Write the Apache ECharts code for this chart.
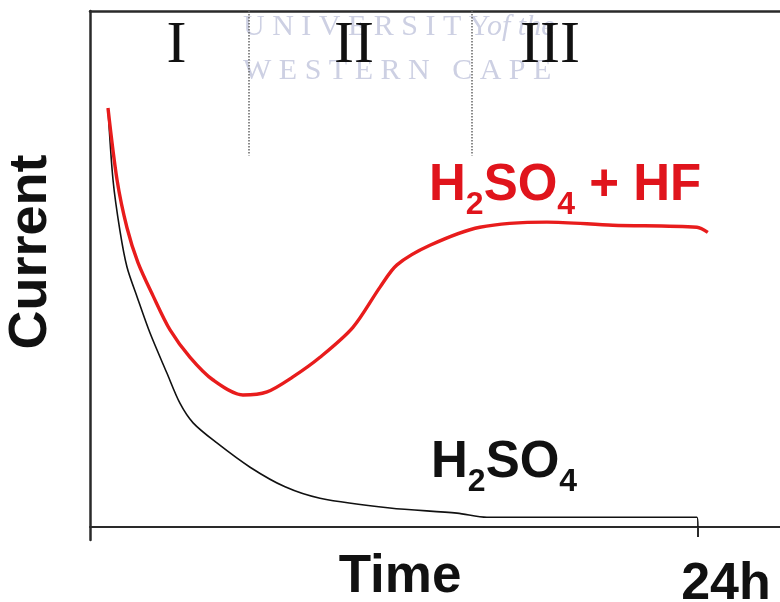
<!DOCTYPE html>
<html>
<head>
<meta charset="utf-8">
<script src="https://cdn.jsdelivr.net/npm/echarts@6/dist/echarts.min.js"></script>
<style>
html,body{margin:0;padding:0;background:#fff;}
#chart{width:780px;height:602px;}
</style>
</head>
<body>
<div id="chart"></div>
<script>
// ---- data (time in hours, current in arbitrary units) ----
const hfTime    = [0.71, 1.07, 1.46, 1.89, 2.49, 3.16, 3.95, 4.86, 6.04, 6.99, 8.01, 9.08, 10.38, 11.45, 12.12, 13.42, 15.39, 18.04, 20.64, 23.96, 24.39];
const hfCurrent = [81.2, 67.2, 58.0, 51.3, 44.8, 38.2, 32.9, 28.5, 25.6, 26.2, 29.1, 32.9, 38.7, 46.5, 50.8, 54.6, 58.1, 59.1, 58.5, 58.1, 57.1];
const h2Time    = [0.71, 0.91, 1.18, 1.46, 1.86, 2.37, 3.04, 3.55, 4.07, 5.01, 6.32, 7.70, 9.08, 11.84, 14.49, 15.67, 20.13, 23.96, 24.0];
const h2Current = [81.2, 67.2, 57.5, 50.4, 44.6, 37.6, 29.8, 24.0, 20.2, 16.3, 11.6, 7.8, 5.6, 3.7, 2.7, 1.9, 1.9, 1.9, 0];
const xTickValues = [24];
const xTickLabels = ['24h'];
const regionNames = ['I', 'II', 'III'];
const regionX = [3.41, 10.42, 18.16];
const regionY = 93.1;
const boundaryX = [6.28, 15.08];
const boundaryTop = 100;
const boundaryBottom = 72;

const SANS = '"Liberation Sans", Arial, sans-serif';
const SERIF = '"Liberation Serif", "Times New Roman", serif';
const RED = '#e0141c';
const AXIS = '#2a2a2a';

const chart = echarts.init(document.getElementById('chart'), null, {renderer: 'canvas'});

const zip = (xs, ys) => xs.map((x, i) => [x, ys[i]]);

const option = {
  animation: false,
  backgroundColor: '#fff',
  grid: {left: 90, right: 0, top: 11, bottom: 62, containLabel: false, outerBoundsMode: 'none'},
  xAxis: [
    {
      type: 'value', position: 'bottom', min: 0, max: 27.24,
      axisLine: {show: true, onZero: true, lineStyle: {color: AXIS, width: 2}},
      axisTick: {show: true, customValues: xTickValues, inside: false, length: 10, lineStyle: {color: AXIS, width: 2}},
      axisLabel: {
        show: true, customValues: xTickValues,
        formatter: v => xTickLabels[xTickValues.indexOf(v)] || '',
        margin: 19, fontSize: 52, lineHeight: 52, fontWeight: 'bold', fontFamily: SANS, color: '#111',
        padding: [0, 0, 0, 56]
      },
      splitLine: {show: false}
    },
    {
      type: 'value', position: 'top', min: 0, max: 27.24,
      axisLine: {show: true, onZero: false, lineStyle: {color: AXIS, width: 2.5}},
      axisTick: {show: false}, axisLabel: {show: false}, splitLine: {show: false}
    }
  ],
  yAxis: {
    type: 'value', min: -2.5, max: 100,
    axisLine: {show: true, onZero: false, lineStyle: {color: AXIS, width: 2.5}},
    axisTick: {show: false}, axisLabel: {show: false}, splitLine: {show: false}
  },
  series: [
    {
      name: 'H2SO4', type: 'line', data: zip(h2Time, h2Current),
      smooth: 0.3, symbol: 'none', z: 3,
      lineStyle: {color: '#111', width: 1.6}
    },
    {
      name: 'H2SO4 + HF', type: 'line', data: zip(hfTime, hfCurrent),
      smooth: 0.3, symbol: 'none', z: 4,
      lineStyle: {color: '#e81c1c', width: 3.4},
      markLine: {
        silent: true, symbol: 'none', animation: false,
        label: {show: false},
        lineStyle: {color: '#666', type: 'dotted', width: 1.5},
        data: boundaryX.map(x => [{coord: [x, boundaryTop]}, {coord: [x, boundaryBottom]}])
      }
    },
    {
      name: 'regions', type: 'scatter', symbolSize: 0, z: 5,
      data: regionX.map((x, i) => ({value: [x, regionY], name: regionNames[i]})),
      label: {
        show: true, position: 'inside', formatter: p => p.name,
        fontFamily: SERIF, fontSize: 60, color: '#111', opacity: 1
      },
      emphasis: {disabled: true}
    }
  ],
  graphic: [
    {type: 'text', z: 0, x: 243, y: 27, style: {text: 'U N I V E R S I T Y', fontFamily: SERIF, fontSize: 30, fill: '#cdd0e3', align: 'left', verticalAlign: 'middle'}},
    {type: 'text', z: 0, x: 487, y: 27, style: {text: 'of the', fontFamily: SERIF, fontStyle: 'italic', fontSize: 30, fill: '#cdd0e3', align: 'left', verticalAlign: 'middle'}},
    {type: 'text', z: 0, x: 243, y: 71, style: {text: 'W E S T E R N   C A P E', fontFamily: SERIF, fontSize: 30, fill: '#cdd0e3', align: 'left', verticalAlign: 'middle'}},
    {type: 'text', z: 10, x: 31, y: 252, rotation: Math.PI / 2, style: {text: 'Current', fontFamily: SANS, fontWeight: 'bold', fontSize: 54, fill: '#111', align: 'center', verticalAlign: 'middle'}},
    {type: 'text', z: 10, x: 400, y: 577, style: {text: 'Time', fontFamily: SANS, fontWeight: 'bold', fontSize: 53, fill: '#111', align: 'center', verticalAlign: 'middle'}},
    {type: 'text', z: 10, x: 429, y: 186, style: {
      text: '{n|H}{s|2}{n|SO}{s|4}{n| + HF}', align: 'left', verticalAlign: 'middle',
      rich: {
        n: {fontFamily: SANS, fontWeight: 'bold', fontSize: 51, fill: RED},
        s: {fontFamily: SANS, fontWeight: 'bold', fontSize: 32, fill: RED, padding: [39, 0, 0, 0]}
      }
    }},
    {type: 'text', z: 10, x: 431, y: 463, style: {
      text: '{n|H}{s|2}{n|SO}{s|4}', align: 'left', verticalAlign: 'middle',
      rich: {
        n: {fontFamily: SANS, fontWeight: 'bold', fontSize: 51, fill: '#111'},
        s: {fontFamily: SANS, fontWeight: 'bold', fontSize: 32, fill: '#111', padding: [39, 0, 0, 0]}
      }
    }}
  ]
};
chart.setOption(option);
</script>
</body>
</html>
